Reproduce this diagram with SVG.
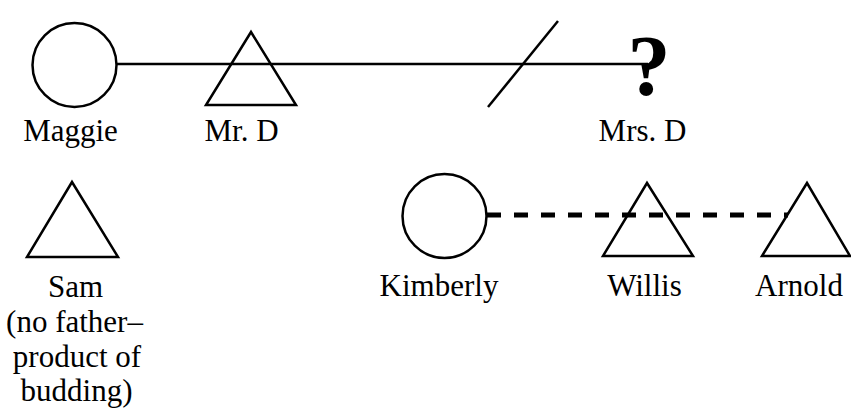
<svg xmlns="http://www.w3.org/2000/svg" width="851" height="412" viewBox="0 0 851 412">
<style>
.shape{fill:none;stroke:#000;stroke-width:2.5}
.lbl{font-family:"Liberation Serif","Times New Roman",serif;font-size:31px;fill:#000;text-anchor:middle}
.line{stroke:#000;stroke-width:2.5;fill:none}
.dash{stroke:#000;stroke-width:5;fill:none;stroke-dasharray:14 13}
</style>
<rect width="851" height="412" fill="#fff"/>
<g id="connectors">
<line class="line" x1="116" y1="64" x2="648" y2="64"/>
<line class="line" x1="488" y1="107" x2="558" y2="21"/>
<line class="dash" x1="487" y1="215" x2="788" y2="215"/>
</g>
<g id="maggie">
<circle class="shape" cx="74.5" cy="65" r="42"/>
<text class="lbl" x="70.5" y="141">Maggie</text>
</g>
<g id="mrd">
<polygon class="shape" points="251,32 206,105 296,105"/>
<text class="lbl" x="241.5" y="141">Mr. D</text>
</g>
<g id="mrsd">
<text x="649" y="95" style="font-family:'Liberation Serif','Times New Roman',serif;font-size:86px;font-weight:bold;text-anchor:middle">?</text>
<text class="lbl" x="642.5" y="141">Mrs. D</text>
</g>
<g id="sam">
<polygon class="shape" points="72,182 27,257 118,257"/>
<text class="lbl" x="75.5" y="297">Sam</text>
<text class="lbl" x="74.5" y="332">(no father–</text>
<text class="lbl" x="77" y="367">product of</text>
<text class="lbl" x="76.5" y="401">budding)</text>
</g>
<g id="kimberly">
<circle class="shape" cx="444.5" cy="216" r="42"/>
<text class="lbl" x="439" y="296">Kimberly</text>
</g>
<g id="willis">
<polygon class="shape" points="647,183 603,256 693,256"/>
<text class="lbl" x="644.5" y="296">Willis</text>
</g>
<g id="arnold">
<polygon class="shape" points="807,183 762,256 850,256"/>
<text class="lbl" x="799" y="296">Arnold</text>
</g>
</svg>
